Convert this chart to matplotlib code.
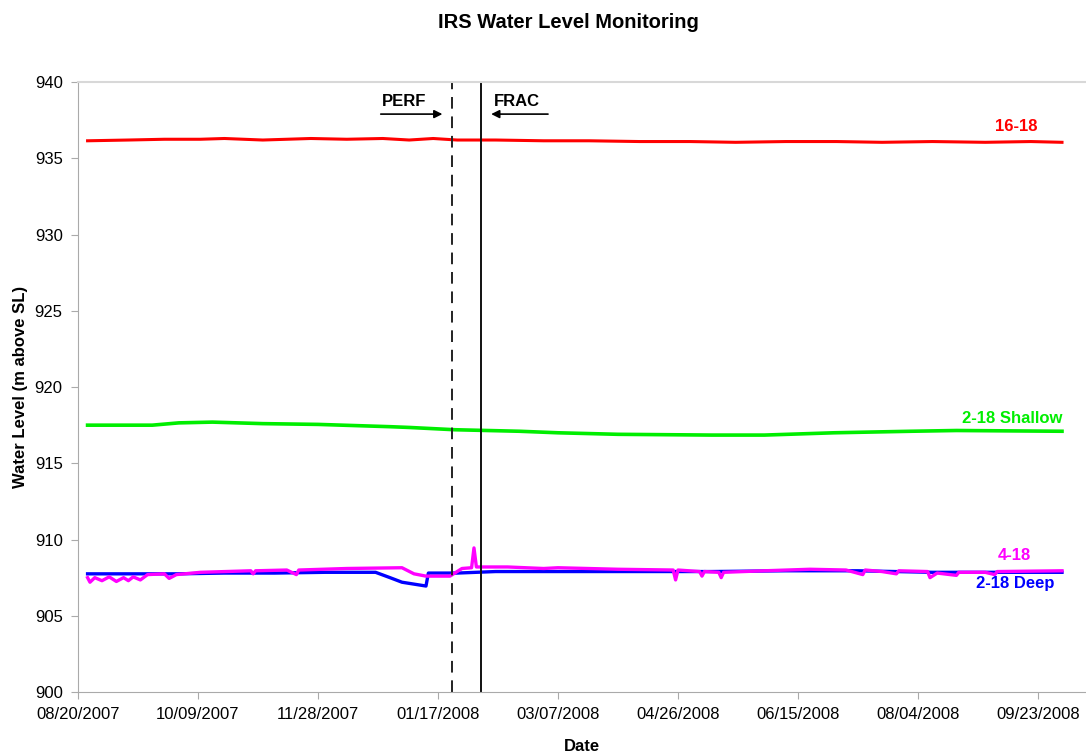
import matplotlib; matplotlib.use("Agg")
import matplotlib.pyplot as plt
import matplotlib.dates as mdates
import pandas as pd

plt.rcParams.update({"font.family": ["Liberation Sans", "DejaVu Sans"], "font.size": 12})

# 16-18
red_dates = ["2007-08-24", "2007-09-10", "2007-09-25", "2007-10-10", "2007-10-20", "2007-11-05",
             "2007-11-25", "2007-12-10", "2007-12-25", "2008-01-05", "2008-01-15", "2008-01-25",
             "2008-02-10", "2008-03-01", "2008-03-20", "2008-04-10", "2008-05-01", "2008-05-20",
             "2008-06-10", "2008-07-01", "2008-07-20", "2008-08-10", "2008-09-01", "2008-09-20",
             "2008-10-03"]
red_vals = [936.15, 936.2, 936.25, 936.25, 936.3, 936.2, 936.3, 936.25, 936.3, 936.2, 936.3, 936.2,
            936.2, 936.15, 936.15, 936.1, 936.1, 936.05, 936.1, 936.1, 936.05, 936.1, 936.05, 936.1,
            936.05]

# 2-18 Shallow
green_dates = ["2007-08-24", "2007-09-20", "2007-10-01", "2007-10-15", "2007-11-05", "2007-11-28",
               "2007-12-28", "2008-01-05", "2008-01-24", "2008-02-20", "2008-03-07", "2008-04-01",
               "2008-05-10", "2008-06-01", "2008-06-30", "2008-08-01", "2008-08-20", "2008-10-03"]
green_vals = [917.5, 917.5, 917.65, 917.7, 917.6, 917.55, 917.4, 917.35, 917.2, 917.1, 917.0, 916.9,
              916.85, 916.85, 917.0, 917.1, 917.15, 917.1]

# 2-18 Deep
blue_dates = ["2007-08-24", "2007-09-10", "2007-10-01", "2007-10-20", "2007-11-10", "2007-12-01",
              "2007-12-22", "2007-12-28", "2008-01-02", "2008-01-06", "2008-01-12", "2008-01-13",
              "2008-01-25", "2008-02-10", "2008-03-10", "2008-04-10", "2008-05-10", "2008-06-10",
              "2008-07-10", "2008-08-10", "2008-09-10", "2008-10-03"]
blue_vals = [907.75, 907.75, 907.75, 907.8, 907.8, 907.85, 907.85, 907.5, 907.2, 907.1, 906.95, 907.8,
             907.8, 907.9, 907.9, 907.9, 907.9, 907.95, 907.95, 907.85, 907.85, 907.85]

# 4-18
mag_dates = ["2007-08-24", "2007-08-25", "2007-08-27", "2007-08-30", "2007-09-02", "2007-09-05",
             "2007-09-08", "2007-09-10", "2007-09-12", "2007-09-15", "2007-09-18", "2007-09-25",
             "2007-09-27", "2007-09-30", "2007-10-10", "2007-10-31", "2007-11-01", "2007-11-02",
             "2007-11-15", "2007-11-19", "2007-11-20", "2007-12-10", "2008-01-02", "2008-01-07",
             "2008-01-12", "2008-01-22", "2008-01-27", "2008-01-31", "2008-02-01", "2008-02-02",
             "2008-02-15", "2008-03-01", "2008-03-07", "2008-04-01", "2008-04-24", "2008-04-25",
             "2008-04-26", "2008-05-05", "2008-05-06", "2008-05-07", "2008-05-13", "2008-05-14",
             "2008-05-15", "2008-06-01", "2008-06-20", "2008-07-05", "2008-07-12", "2008-07-13",
             "2008-07-20", "2008-07-26", "2008-07-27", "2008-08-08", "2008-08-09", "2008-08-12",
             "2008-08-20", "2008-08-21", "2008-09-01", "2008-09-05", "2008-09-06", "2008-10-03"]
mag_vals = [907.5, 907.2, 907.5, 907.3, 907.55, 907.25, 907.5, 907.3, 907.55, 907.35, 907.7, 907.75,
            907.45, 907.7, 907.85, 907.95, 907.75, 907.95, 908.0, 907.7, 908.0, 908.1, 908.15, 907.75,
            907.6, 907.6, 908.1, 908.15, 909.45, 908.2, 908.2, 908.1, 908.15, 908.05, 908.0, 907.35,
            908.0, 907.9, 907.6, 907.9, 907.85, 907.5, 907.85, 907.95, 908.05, 908.0, 907.7, 908.0,
            907.9, 907.75, 907.95, 907.9, 907.5, 907.8, 907.65, 907.85, 907.85, 907.7, 907.9, 907.95]

tick_dates = pd.date_range("2007-08-20", periods=9, freq="50D")
perf_date, frac_date = pd.Timestamp("2008-01-23"), pd.Timestamp("2008-02-04")

fig = plt.figure(figsize=(10.86, 7.53), dpi=100)
ax = fig.add_axes([0.0718, 0.081, 0.9282, 0.81])

ax.plot(pd.to_datetime(red_dates), red_vals, color="#ff0000", lw=2.2)
ax.plot(pd.to_datetime(green_dates), green_vals, color="#00ee00", lw=2.6)
ax.plot(pd.to_datetime(blue_dates), blue_vals, color="#0000ff", lw=2.4)
ax.plot(pd.to_datetime(mag_dates), mag_vals, color="#ff00ff", lw=2.4)

ax.axvline(perf_date, color="#222", lw=1.4, ls=(0, (6, 4)))
ax.axvline(frac_date, color="#111", lw=1.4)

ax.set_xlim(pd.Timestamp("2007-08-20"), pd.Timestamp("2008-10-13"))
ax.set_ylim(900, 940)
ax.set_yticks(range(900, 941, 5))
ax.set_xticks(tick_dates)
ax.xaxis.set_major_formatter(mdates.DateFormatter("%m/%d/%Y"))
ax.tick_params(axis="both", direction="out", length=5, color="#aaaaaa", labelsize=12, pad=6)

for s in ("left", "bottom"):
    ax.spines[s].set_color("#aaaaaa")
ax.spines["top"].set_color("#d8d8d8")
ax.spines["top"].set_linewidth(1.5)
ax.spines["right"].set_visible(False)

bold = dict(fontsize=12, fontweight="bold")
ax.text(pd.Timestamp("2008-09-23"), 936.6, "16-18", color="#ff0000", ha="right", va="bottom", **bold)
ax.text(pd.Timestamp("2008-10-03"), 917.45, "2-18 Shallow", color="#00ee00", ha="right", va="bottom", **bold)
ax.text(pd.Timestamp("2008-09-20"), 908.45, "4-18", color="#ff00ff", ha="right", va="bottom", **bold)
ax.text(pd.Timestamp("2008-09-30"), 907.6, "2-18 Deep", color="#0000ff", ha="right", va="top", **bold)

ax.text(pd.Timestamp("2008-01-03"), 938.7, "PERF", ha="center", va="center", **bold)
ax.text(pd.Timestamp("2008-02-19"), 938.7, "FRAC", ha="center", va="center", **bold)
ax.annotate("", xy=(pd.Timestamp("2008-01-20"), 937.9), xytext=(pd.Timestamp("2007-12-23"), 937.9),
            arrowprops=dict(arrowstyle="-|>", color="black", lw=1.2, mutation_scale=12))
ax.annotate("", xy=(pd.Timestamp("2008-02-07"), 937.9), xytext=(pd.Timestamp("2008-03-04"), 937.9),
            arrowprops=dict(arrowstyle="-|>", color="black", lw=1.2, mutation_scale=12))

ax.set_ylabel("Water Level (m above SL)", fontsize=12, fontweight="bold", labelpad=5)
ax.set_xlabel("Date", fontsize=12, fontweight="bold", labelpad=12)
fig.suptitle("IRS Water Level Monitoring", x=0.523, y=0.983, fontsize=14.5, fontweight="bold")

fig.savefig("out.png", dpi=100)
